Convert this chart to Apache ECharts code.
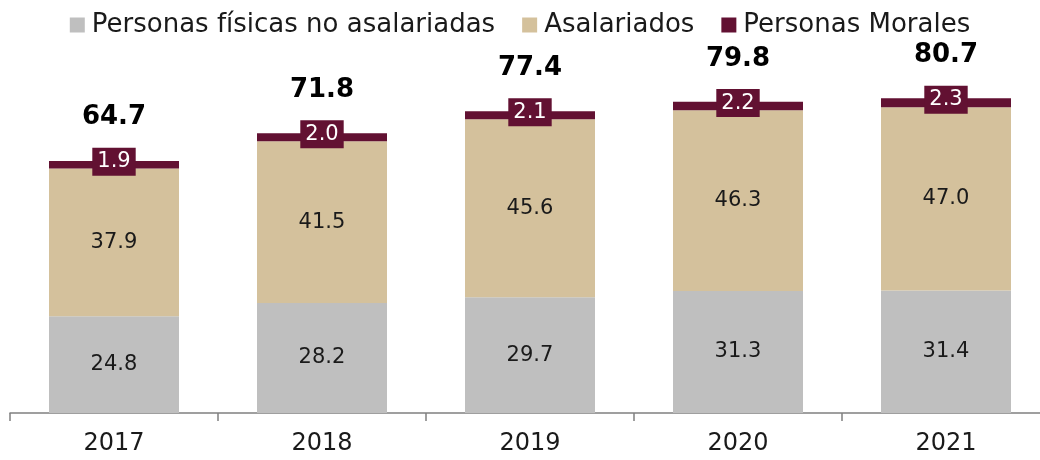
<!DOCTYPE html>
<html><head><meta charset="utf-8">
<script src="https://cdn.jsdelivr.net/npm/echarts@6/dist/echarts.min.js"></script>
<style>html,body{margin:0;padding:0;background:#fff}#c{width:1040px;height:460px}</style>
</head><body><div id="c"></div>
<script>
const categories = ['2017','2018','2019','2020','2021'];
const fisicas = [24.8, 28.2, 29.7, 31.3, 31.4];
const asalariados = [37.9, 41.5, 45.6, 46.3, 47.0];
const morales = [1.9, 2.0, 2.1, 2.2, 2.3];
const totals = [64.7, 71.8, 77.4, 79.8, 80.7];
const FONT = 'DejaVu Sans';
const chart = echarts.init(document.getElementById('c'));
const segLabel = {show:true, position:'inside', color:'#1a1a1a', fontSize:21, fontFamily:FONT,
  formatter: p => p.value.toFixed(1)};
chart.setOption({
  animation:false,
  legend:{data:['Personas físicas no asalariadas','Asalariados','Personas Morales'], top:7, left:'center',
    itemWidth:15, itemHeight:15, itemGap:27, icon:'rect',
    textStyle:{fontSize:26, fontFamily:FONT, color:'#1a1a1a', padding:[0,0,0,2]}},
  grid:{left:10, width:1040, top:23, bottom:47, outerBoundsMode:'none', containLabel:false},
  xAxis:{type:'category', data:categories,
    axisLine:{lineStyle:{color:'#808080', width:1.5}},
    axisTick:{show:true, length:8, lineStyle:{color:'#808080', width:1.5}},
    axisLabel:{fontSize:24, fontFamily:FONT, color:'#1a1a1a', margin:19}},
  yAxis:{type:'value', min:0, max:100, show:false, splitLine:{show:false}},
  series:[
    {name:'Personas físicas no asalariadas', type:'bar', stack:'t', data:fisicas, barWidth:'62.5%',
      itemStyle:{color:'#BFBFBF'}, label:segLabel},
    {name:'Asalariados', type:'bar', stack:'t', data:asalariados,
      itemStyle:{color:'#D4C19C'}, label:segLabel},
    {name:'Personas Morales', type:'bar', stack:'t', data:morales,
      itemStyle:{color:'#621132'}, z:3,
      label:{show:true, position:'inside', color:'#fff', fontSize:21, fontFamily:FONT,
        backgroundColor:'#621132', padding:[4,5,3,5], offset:[0,-3],
        formatter: p => p.value.toFixed(1)}},
    {name:'Total', type:'scatter', data:totals, symbolSize:0.01, z:5,
      label:{show:true, position:'inside', offset:[0,-43], color:'#000000', opacity:1, fontSize:26, fontWeight:'bold', fontFamily:FONT,
        formatter: p => p.value.toFixed(1)}}
  ]
});
</script></body></html>
